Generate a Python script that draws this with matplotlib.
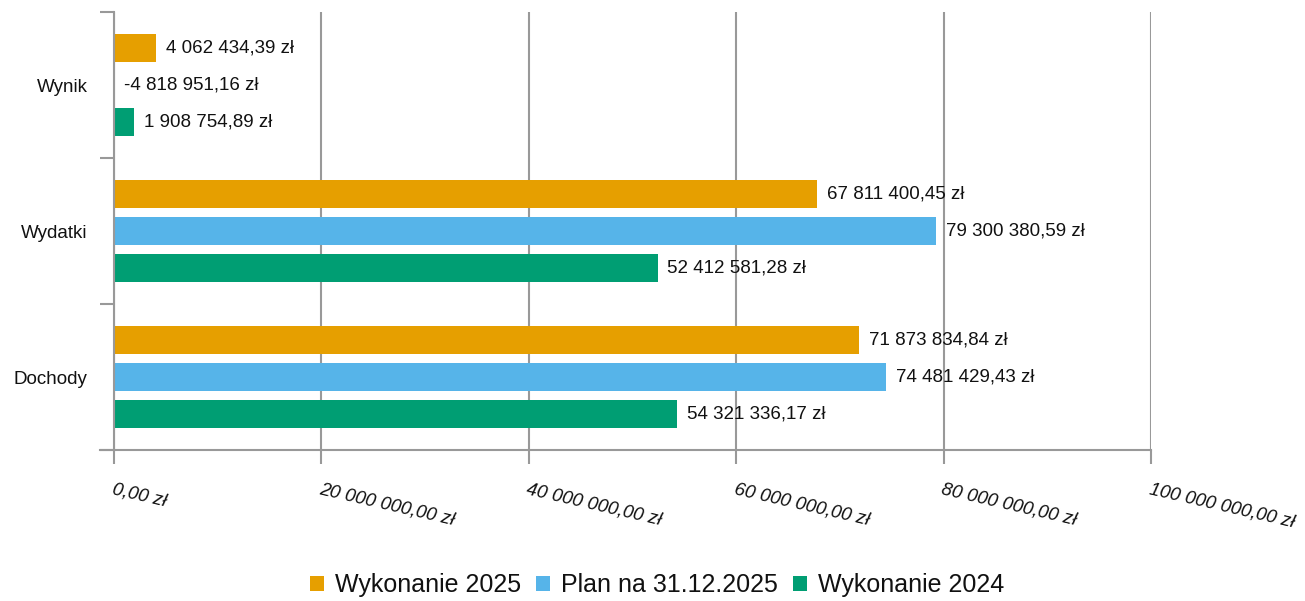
import matplotlib
matplotlib.use("Agg")
import matplotlib.pyplot as plt
from matplotlib.patches import Patch
from matplotlib.lines import Line2D

plt.rcParams['font.family'] = ['Liberation Sans', 'DejaVu Sans']

categories = ["Dochody", "Wydatki", "Wynik"]
series_names = ["Wykonanie 2025", "Plan na 31.12.2025", "Wykonanie 2024"]
wyk2025 = [71873834.84, 67811400.45, 4062434.39]
plan2025 = [74481429.43, 79300380.59, -4818951.16]
wyk2024 = [54321336.17, 52412581.28, 1908754.89]
colors = ["#E69F00", "#56B4E9", "#009E73"]
xticks = [0, 20000000, 40000000, 60000000, 80000000, 100000000]


def fmt(v):
    s = f"{abs(v):,.2f}".replace(",", " ").replace(".", ",")
    return ("-" if v < 0 else "") + s + " zł"


fig = plt.figure(figsize=(13.05, 6.01), dpi=100)
W, H = 1305, 601
ax = fig.add_axes([114 / W, 1 - 450 / H, (1151 - 114) / W, (450 - 12) / H])

grid_c = "#999999"
offsets = [0.253, 0.0, -0.253]
bh = 0.19
for vals, off, col in zip([wyk2025, plan2025, wyk2024], offsets, colors):
    for i, v in enumerate(vals):
        y = i + off
        ax.barh(y, max(v, 0), height=bh, color=col, zorder=3)
        ax.annotate(fmt(v), xy=(max(v, 0), y), xytext=(7, 0),
                    textcoords="offset points", va="center", ha="left",
                    fontsize=13.5, color="#111111", zorder=4)

ax.set_xlim(0, 100000000)
ax.set_ylim(-0.5, 2.5)

# x axis
ax.set_xticks(xticks)
ax.set_xticklabels([fmt(t) for t in xticks], rotation=-13, ha="left", va="top",
                   rotation_mode="anchor", fontsize=13.5, fontstyle="italic",
                   color="#111111")
ax.tick_params(axis="x", direction="out", length=10, width=1.5, color=grid_c, pad=12)
ax.xaxis.grid(True, color=grid_c, linewidth=1.5, zorder=0)

# y axis
ax.set_yticks([-0.5, 0.5, 1.5, 2.5])
ax.set_yticklabels([])
ax.set_yticks([0, 1, 2], minor=True)
ax.set_yticklabels(categories, minor=True, fontsize=13.5, color="#111111")
ax.tick_params(axis="y", which="major", direction="out", length=10, width=1.5, color=grid_c)
ax.tick_params(axis="y", which="minor", length=0, pad=19)

for s in ["top", "right"]:
    ax.spines[s].set_visible(False)
for s in ["left", "bottom"]:
    ax.spines[s].set_color(grid_c)
    ax.spines[s].set_linewidth(1.5)
    ax.spines[s].set_zorder(5)

# extend bottom axis line to the left, as in the reference
ax.add_line(Line2D([-14 / (1151 - 114), 0], [0, 0], transform=ax.transAxes,
                   color=grid_c, linewidth=1.5, clip_on=False))

handles = [Patch(facecolor=c, edgecolor="none") for c in colors]
fig.legend(handles, series_names, loc="center", bbox_to_anchor=(657 / W, 1 - 585 / H),
           ncol=3, frameon=False, fontsize=18, handlelength=0.55, handleheight=0.55,
           handletextpad=0.45, columnspacing=0.6, labelcolor="#111111")

fig.savefig("out.png", dpi=100)
